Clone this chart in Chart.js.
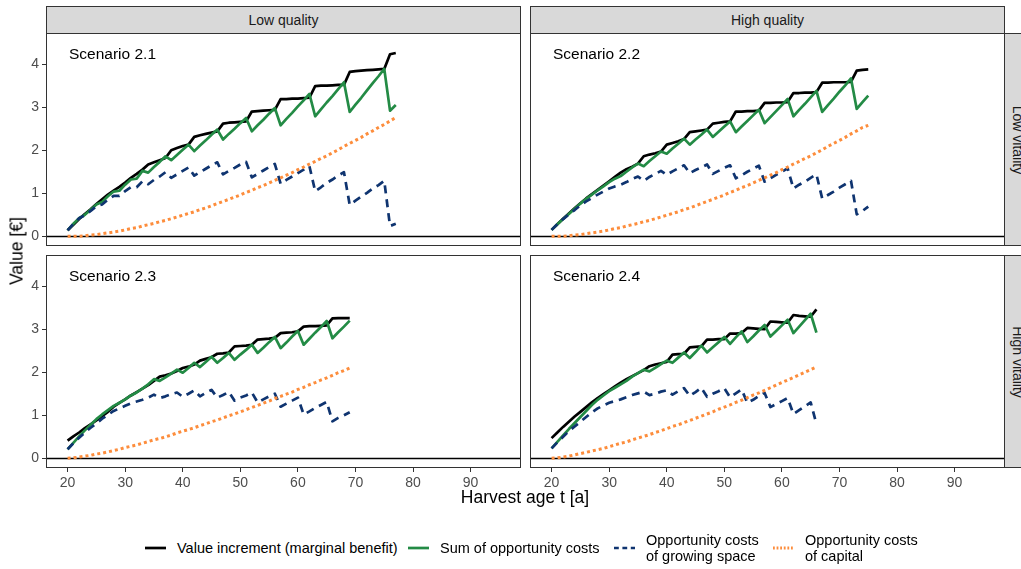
<!DOCTYPE html>
<html>
<head>
<meta charset="utf-8">
<script src="https://cdn.jsdelivr.net/npm/chart.js@4.4.0/dist/chart.umd.min.js"></script>
<style>
  body { margin: 0; width: 1021px; height: 569px; overflow: hidden; background: #fff;
         font-family: "Liberation Sans", Arial, sans-serif; position: relative; }
  canvas { position: absolute; }
  .strip { position: absolute; background: #d9d9d9; border: 1px solid #333; box-sizing: border-box;
           color: #1a1a1a; font-size: 14px; display: flex; align-items: center; justify-content: center; }
  .strip.side span { transform: rotate(90deg); white-space: nowrap; }
  .title { position: absolute; font-size: 17.5px; color: #000; white-space: nowrap; }
  .legend { position: absolute; top: 530px; left: 0; width: 1021px; height: 36px; }
  .key { position: absolute; top: 0; height: 36px; display: flex; align-items: center; font-size: 14.5px; color: #000; line-height: 16px; }
  .key svg { margin-right: 11px; }
</style>
</head>
<body>
<div class="strip" style="left:46px;top:6px;width:475px;height:28px">Low quality</div>
<div class="strip" style="left:530px;top:6px;width:475px;height:28px">High quality</div>
<div class="strip side" style="left:1004px;top:33px;width:28px;height:213px"><span>Low vitality</span></div>
<div class="strip side" style="left:1004px;top:255px;width:28px;height:213px"><span>High vitality</span></div>

<canvas id="p21" width="521" height="213" style="left:0;top:33px"></canvas>
<canvas id="p22" width="475" height="213" style="left:530px;top:33px"></canvas>
<canvas id="p23" width="521" height="243" style="left:0;top:255px"></canvas>
<canvas id="p24" width="475" height="243" style="left:530px;top:255px"></canvas>

<div class="title" style="left:17px;top:251px;transform:translate(-50%,-50%) rotate(-90deg)">Value [€]</div>
<div class="title" style="left:525px;top:497px;transform:translate(-50%,-50%)">Harvest age t [a]</div>

<div class="legend" id="legend"></div>

<script>
// --- DATA ---
const ages = [20, 21, 22, 23, 24, 25, 26, 27, 28, 29, 30, 31, 32, 33, 34, 35, 36, 37, 38, 39,
  40, 41, 42, 43, 44, 45, 46, 47, 48, 49, 50, 51, 52, 53, 54, 55, 56, 57, 58, 59,
  60, 61, 62, 63, 64, 65, 66, 67, 68, 69, 70, 71, 72, 73, 74, 75, 76, 77];
const xTicks = [20, 30, 40, 50, 60, 70, 80, 90];
const yTicks = [0, 1, 2, 3, 4];

// Scenario 2.1 (low quality, low vitality)
const s21Value = [0.14, 0.27, 0.40, 0.52, 0.63, 0.75, 0.86, 0.97, 1.06, 1.15,
  1.25, 1.36, 1.45, 1.55, 1.67, 1.72, 1.77, 1.82, 2.00, 2.05,
  2.10, 2.13, 2.31, 2.35, 2.38, 2.41, 2.44, 2.62, 2.64, 2.65,
  2.66, 2.67, 2.90, 2.91, 2.92, 2.93, 2.94, 3.19, 3.19, 3.20,
  3.20, 3.21, 3.22, 3.49, 3.50, 3.50, 3.51, 3.52, 3.52, 3.82,
  3.84, 3.85, 3.86, 3.87, 3.88, 3.89, 4.23, 4.26];
const s21Sum = [0.14, 0.29, 0.42, 0.50, 0.62, 0.74, 0.80, 0.93, 1.04, 1.06,
  1.20, 1.32, 1.34, 1.52, 1.48, 1.61, 1.73, 1.86, 1.77, 1.89,
  2.01, 2.13, 1.98, 2.11, 2.23, 2.36, 2.48, 2.25, 2.38, 2.50,
  2.63, 2.75, 2.44, 2.58, 2.71, 2.85, 2.98, 2.58, 2.73, 2.87,
  3.02, 3.16, 3.31, 2.79, 2.95, 3.11, 3.26, 3.42, 3.58, 2.89,
  3.06, 3.22, 3.39, 3.56, 3.72, 3.89, 2.92, 3.05];
const s21Space = [0.14, 0.29, 0.42, 0.49, 0.59, 0.70, 0.74, 0.85, 0.94, 0.94,
  1.05, 1.14, 1.14, 1.28, 1.21, 1.31, 1.39, 1.49, 1.36, 1.44,
  1.52, 1.60, 1.41, 1.49, 1.57, 1.65, 1.72, 1.44, 1.52, 1.59,
  1.67, 1.73, 1.37, 1.45, 1.53, 1.61, 1.68, 1.22, 1.31, 1.39,
  1.47, 1.55, 1.63, 1.05, 1.14, 1.24, 1.32, 1.41, 1.49, 0.73,
  0.83, 0.92, 1.01, 1.11, 1.19, 1.29, 0.24, 0.29];
const s21Capital = [0, 0, 0, 0.01, 0.03, 0.04, 0.06, 0.08, 0.10, 0.12,
  0.15, 0.18, 0.20, 0.24, 0.27, 0.30, 0.34, 0.37, 0.41, 0.45,
  0.49, 0.53, 0.57, 0.62, 0.66, 0.71, 0.76, 0.81, 0.86, 0.91,
  0.96, 1.02, 1.07, 1.13, 1.18, 1.24, 1.30, 1.36, 1.42, 1.48,
  1.55, 1.61, 1.68, 1.74, 1.81, 1.87, 1.94, 2.01, 2.09, 2.16,
  2.23, 2.30, 2.38, 2.45, 2.53, 2.60, 2.68, 2.76];

// Scenario 2.2 (high quality, low vitality)
const s22Value = [0.15, 0.28, 0.41, 0.53, 0.65, 0.77, 0.88, 0.98, 1.08, 1.18,
  1.28, 1.38, 1.48, 1.56, 1.62, 1.69, 1.86, 1.90, 1.93, 1.97,
  2.13, 2.17, 2.21, 2.26, 2.42, 2.44, 2.46, 2.48, 2.62, 2.64,
  2.66, 2.67, 2.90, 2.90, 2.91, 2.91, 2.92, 3.10, 3.10, 3.11,
  3.11, 3.12, 3.33, 3.33, 3.34, 3.34, 3.35, 3.57, 3.57, 3.58,
  3.58, 3.58, 3.59, 3.85, 3.87, 3.88];
const s22Sum = [0.15, 0.28, 0.40, 0.52, 0.64, 0.76, 0.87, 0.97, 1.07, 1.16,
  1.26, 1.34, 1.40, 1.50, 1.60, 1.69, 1.63, 1.75, 1.86, 1.97,
  1.92, 2.04, 2.15, 2.27, 2.13, 2.25, 2.36, 2.48, 2.31, 2.43,
  2.55, 2.67, 2.42, 2.55, 2.68, 2.81, 2.94, 2.63, 2.77, 2.91,
  3.05, 3.19, 2.79, 2.94, 3.08, 3.23, 3.38, 2.89, 3.05, 3.20,
  3.36, 3.51, 3.67, 2.96, 3.12, 3.27];
const s22Space = [0.15, 0.28, 0.40, 0.51, 0.61, 0.72, 0.81, 0.89, 0.97, 1.04,
  1.11, 1.16, 1.20, 1.26, 1.33, 1.39, 1.29, 1.38, 1.45, 1.52,
  1.43, 1.51, 1.58, 1.65, 1.47, 1.54, 1.60, 1.67, 1.45, 1.52,
  1.59, 1.65, 1.35, 1.42, 1.50, 1.57, 1.64, 1.27, 1.35, 1.43,
  1.50, 1.58, 1.11, 1.20, 1.27, 1.36, 1.44, 0.88, 0.96, 1.04,
  1.13, 1.21, 1.29, 0.51, 0.59, 0.69];
const s22Capital = [0, 0, 0, 0.01, 0.03, 0.04, 0.06, 0.08, 0.10, 0.12,
  0.15, 0.18, 0.20, 0.24, 0.27, 0.30, 0.34, 0.37, 0.41, 0.45,
  0.49, 0.53, 0.57, 0.62, 0.66, 0.71, 0.76, 0.81, 0.86, 0.91,
  0.96, 1.02, 1.07, 1.13, 1.18, 1.24, 1.30, 1.36, 1.42, 1.48,
  1.55, 1.61, 1.68, 1.74, 1.81, 1.87, 1.94, 2.01, 2.09, 2.16,
  2.23, 2.30, 2.38, 2.45, 2.53, 2.58];

// Scenario 2.3 (low quality, high vitality)
const s23Value = [0.41, 0.51, 0.60, 0.70, 0.79, 0.88, 0.98, 1.08, 1.20, 1.29,
  1.37, 1.46, 1.54, 1.62, 1.70, 1.80, 1.90, 1.93, 1.97, 2.03,
  2.10, 2.13, 2.18, 2.27, 2.31, 2.35, 2.43, 2.44, 2.46, 2.60,
  2.61, 2.62, 2.64, 2.76, 2.77, 2.78, 2.80, 2.91, 2.92, 2.93,
  2.95, 3.06, 3.07, 3.07, 3.08, 3.09, 3.25, 3.26, 3.26, 3.26];
const s23Sum = [0.21, 0.36, 0.51, 0.65, 0.78, 0.91, 1.02, 1.12, 1.22, 1.29,
  1.37, 1.46, 1.53, 1.62, 1.72, 1.84, 1.80, 1.88, 1.97, 2.06,
  1.99, 2.10, 2.22, 2.12, 2.24, 2.36, 2.22, 2.33, 2.45, 2.29,
  2.41, 2.52, 2.64, 2.45, 2.57, 2.70, 2.82, 2.56, 2.69, 2.83,
  2.96, 2.64, 2.78, 2.92, 3.05, 3.19, 2.79, 2.93, 3.06, 3.20];
const s23Space = [0.21, 0.35, 0.48, 0.60, 0.71, 0.81, 0.92, 1.01, 1.10, 1.16,
  1.22, 1.28, 1.32, 1.36, 1.41, 1.48, 1.40, 1.44, 1.49, 1.53,
  1.43, 1.50, 1.58, 1.44, 1.52, 1.59, 1.41, 1.47, 1.54, 1.34,
  1.41, 1.46, 1.53, 1.30, 1.37, 1.44, 1.50, 1.20, 1.27, 1.34,
  1.41, 1.02, 1.09, 1.17, 1.24, 1.31, 0.86, 0.94, 1.00, 1.07];
const s23Capital = [0, 0.01, 0.03, 0.05, 0.07, 0.10, 0.12, 0.15, 0.18, 0.21,
  0.25, 0.28, 0.31, 0.35, 0.39, 0.43, 0.46, 0.50, 0.54, 0.59,
  0.63, 0.67, 0.71, 0.76, 0.80, 0.85, 0.89, 0.94, 0.99, 1.03,
  1.08, 1.13, 1.18, 1.23, 1.28, 1.33, 1.39, 1.44, 1.49, 1.54,
  1.60, 1.65, 1.71, 1.76, 1.82, 1.87, 1.93, 1.99, 2.04, 2.10];

// Scenario 2.4 (high quality, high vitality)
const s24Value = [0.47, 0.60, 0.73, 0.85, 0.97, 1.08, 1.19, 1.30, 1.40, 1.49,
  1.58, 1.67, 1.76, 1.84, 1.91, 1.98, 2.05, 2.14, 2.18, 2.21,
  2.24, 2.41, 2.42, 2.43, 2.58, 2.59, 2.60, 2.76, 2.76, 2.77,
  2.77, 2.90, 2.90, 2.91, 3.03, 3.02, 3.01, 3.00, 3.18, 3.17,
  3.16, 3.15, 3.33, 3.31, 3.30, 3.29, 3.46];
const s24Sum = [0.23, 0.38, 0.53, 0.68, 0.82, 0.96, 1.10, 1.24, 1.36, 1.46,
  1.56, 1.64, 1.72, 1.80, 1.90, 1.98, 2.06, 2.02, 2.10, 2.19,
  2.27, 2.22, 2.34, 2.46, 2.33, 2.47, 2.62, 2.46, 2.58, 2.70,
  2.82, 2.66, 2.81, 2.95, 2.70, 2.83, 2.97, 3.10, 2.83, 2.96,
  3.09, 3.22, 2.91, 3.06, 3.21, 3.36, 2.92];
const s24Space = [0.23, 0.37, 0.50, 0.63, 0.74, 0.85, 0.96, 1.07, 1.16, 1.23,
  1.29, 1.33, 1.37, 1.42, 1.47, 1.51, 1.55, 1.47, 1.50, 1.55,
  1.58, 1.48, 1.56, 1.63, 1.45, 1.54, 1.64, 1.43, 1.50, 1.56,
  1.63, 1.42, 1.51, 1.60, 1.29, 1.36, 1.45, 1.52, 1.19, 1.26,
  1.33, 1.40, 1.03, 1.12, 1.21, 1.30, 0.80];
const s24Capital = [0, 0.01, 0.03, 0.05, 0.08, 0.11, 0.14, 0.17, 0.20, 0.23,
  0.27, 0.31, 0.35, 0.38, 0.43, 0.47, 0.51, 0.55, 0.60, 0.64,
  0.69, 0.74, 0.78, 0.83, 0.88, 0.93, 0.98, 1.03, 1.08, 1.14,
  1.19, 1.24, 1.30, 1.35, 1.41, 1.47, 1.52, 1.58, 1.64, 1.70,
  1.76, 1.82, 1.88, 1.94, 2.00, 2.06, 2.12];

// --- STYLES ---
const seriesStyle = [
  { label: 'Value increment (marginal benefit)', color: '#000000', width: 2.7, dash: [], order: 3 },
  { label: 'Sum of opportunity costs', color: '#238b45', width: 2.7, dash: [], order: 2 },
  { label: 'Opportunity costs\nof growing space', color: '#0f3470', width: 2.7, dash: [8, 6], order: 1 },
  { label: 'Opportunity costs\nof capital', color: '#fd8d3c', width: 3, dash: [3, 3], order: 0 }
];
const tickFont = { size: 14, family: '"Liberation Sans", Arial' };

// panel border, zero line and scenario label
const panelDecor = {
  id: 'panelDecor',
  beforeDatasetsDraw(chart) {
    const { ctx, chartArea: a, scales: { y } } = chart;
    const y0 = Math.round(y.getPixelForValue(0)) + 0.5;
    ctx.save();
    ctx.strokeStyle = '#000';
    ctx.lineWidth = 1.3;
    ctx.beginPath();
    ctx.moveTo(a.left, y0);
    ctx.lineTo(a.right, y0);
    ctx.stroke();
    ctx.restore();
  },
  afterDraw(chart, args, opts) {
    const { ctx, chartArea: a } = chart;
    ctx.save();
    ctx.strokeStyle = '#333';
    ctx.lineWidth = 1;
    ctx.strokeRect(a.left + 0.5, a.top + 0.5, a.right - a.left - 1, a.bottom - a.top - 1);
    ctx.fillStyle = '#000';
    ctx.font = '15.5px "Liberation Sans", Arial, sans-serif';
    ctx.textBaseline = 'middle';
    ctx.fillText(opts.label, a.left + 23, a.top + 22);
    ctx.restore();
  }
};

function makePanel(id, label, values, showX, showY) {
  const datasets = values.map((vals, k) => ({
    label: seriesStyle[k].label,
    data: vals.map((v, i) => ({ x: ages[i], y: v })),
    borderColor: seriesStyle[k].color,
    borderWidth: seriesStyle[k].width,
    borderDash: seriesStyle[k].dash,
    borderCapStyle: 'butt',
    borderJoinStyle: 'round',
    order: seriesStyle[k].order,
    pointRadius: 0,
    tension: 0,
    fill: false
  }));

  new Chart(document.getElementById(id), {
    type: 'line',
    data: { datasets },
    plugins: [panelDecor],
    options: {
      responsive: false,
      animation: false,
      events: [],
      layout: { padding: 0 },
      plugins: { legend: { display: false }, tooltip: { enabled: false }, panelDecor: { label } },
      scales: {
        x: {
          type: 'linear', min: 16.25, max: 98.75, display: showX,
          afterBuildTicks: (s) => { s.ticks = xTicks.map((v) => ({ value: v })); },
          afterFit: (s) => { s.height = showX ? 30 : 0; s.paddingLeft = 0; s.paddingRight = 0; },
          grid: { drawOnChartArea: false, drawTicks: true, tickLength: 4, color: '#333' },
          border: { display: false },
          ticks: { color: '#4d4d4d', font: tickFont, padding: 3, maxRotation: 0 }
        },
        y: {
          type: 'linear', min: -0.225, max: 4.725, display: showY,
          afterBuildTicks: (s) => { s.ticks = yTicks.map((v) => ({ value: v })); },
          afterFit: (s) => { s.width = showY ? 46 : 0; s.paddingTop = 0; s.paddingBottom = 0; },
          grid: { drawOnChartArea: false, drawTicks: true, tickLength: 4, color: '#333' },
          border: { display: false },
          ticks: { color: '#4d4d4d', font: tickFont, padding: 3 }
        }
      }
    }
  });
}

makePanel('p21', 'Scenario 2.1', [s21Value, s21Sum, s21Space, s21Capital], false, true);
makePanel('p22', 'Scenario 2.2', [s22Value, s22Sum, s22Space, s22Capital], false, false);
makePanel('p23', 'Scenario 2.3', [s23Value, s23Sum, s23Space, s23Capital], true, true);
makePanel('p24', 'Scenario 2.4', [s24Value, s24Sum, s24Space, s24Capital], true, false);

// --- SHARED LEGEND ---
const keyLeft = [145, 408, 614, 773];
const legend = document.getElementById('legend');
seriesStyle.forEach((st, k) => {
  const key = document.createElement('div');
  key.className = 'key';
  key.style.left = keyLeft[k] + 'px';
  const svg = '<svg width="21" height="10"><line x1="0" y1="5" x2="21" y2="5" stroke="' + st.color +
    '" stroke-width="' + st.width + '" stroke-dasharray="' + (st.dash.length ? st.dash.map((d) => d * 0.6).join(',') : 'none') + '"/></svg>';
  key.innerHTML = svg + '<span>' + st.label.replace('\n', '<br>') + '</span>';
  legend.appendChild(key);
});
</script>
</body>
</html>
